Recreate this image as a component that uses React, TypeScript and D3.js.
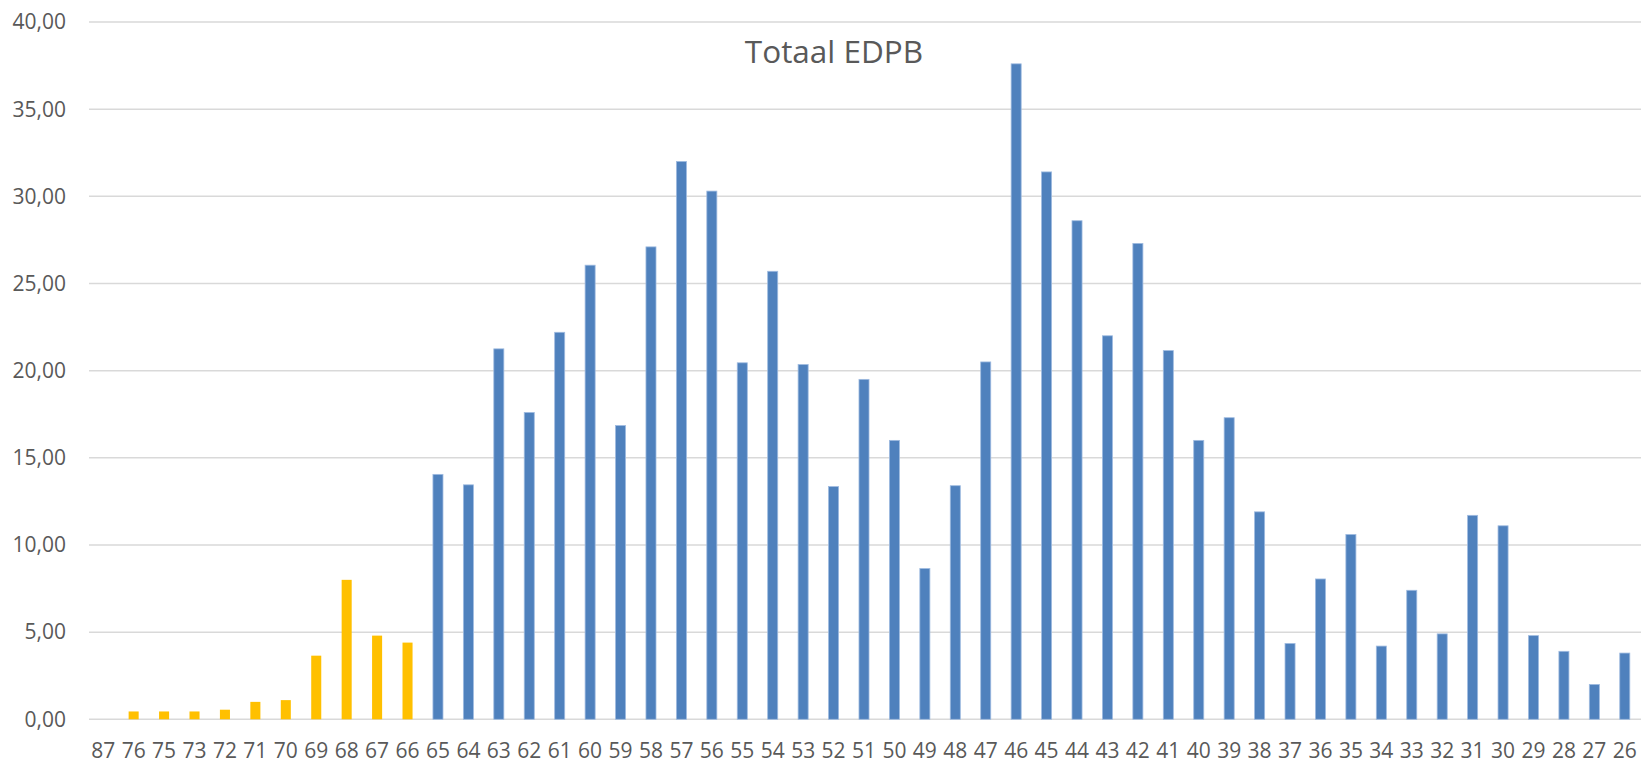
import React from "react";
import * as d3 from "d3";

const categories = ["87","76","75","73","72","71","70","69","68","67","66","65","64","63","62","61","60","59","58","57","56","55","54","53","52","51","50","49","48","47","46","45","44","43","42","41","40","39","38","37","36","35","34","33","32","31","30","29","28","27","26"];
const values = [0,0.45,0.45,0.45,0.55,1.0,1.1,3.65,8.0,4.8,4.4,14.05,13.45,21.25,17.6,22.2,26.05,16.85,27.1,32.0,30.3,20.45,25.7,20.35,13.35,19.5,16.0,8.65,13.4,20.5,37.6,31.4,28.6,22.0,27.3,21.15,16.0,17.3,11.9,4.35,8.05,10.6,4.2,7.4,4.9,11.7,11.1,4.8,3.9,2.0,3.8];
const yellowCategories = ["87","76","75","73","72","71","70","69","68","67","66"];
const yTicks = [0,5,10,15,20,25,30,35,40];
const title = "Totaal EDPB";

const W = 1641, H = 762;
const left = 88, right = 1640, top = 22, bottom = 719.3;
const FONT = "'Open Sans', sans-serif";

export default function App() {
  const x = d3.scaleBand<string>().domain(categories).range([left, right]).paddingInner(0.67).paddingOuter(0.335);
  const y = d3.scaleLinear().domain([0, 40]).range([bottom, top]);
  const fmt = (v: number) => d3.format(".2f")(v).replace(".", ",");
  return (
    <div style={{ position: "fixed", left: 0, top: 0 }}>
      <svg width={W} height={H} style={{ display: "block", background: "#fff" }}>
        {yTicks.map((t) => (
          <g key={t}>
            <line x1={left + 1} x2={right + 1} y1={y(t)} y2={y(t)} stroke="#d9d9d9" strokeWidth={1.5} />
            <text x={66} y={y(t)} dy="0.35em" textAnchor="end" fontFamily={FONT} fontSize={21} fill="#595959">{fmt(t)}</text>
          </g>
        ))}
        {categories.map((c, i) => {
          const v = values[i];
          if (v <= 0) return null;
          const yellow = yellowCategories.includes(c);
          return (
            <rect key={c} x={x(c)} y={y(v)} width={x.bandwidth()} height={y(0) - y(v)}
              fill={yellow ? "#FFC000" : "#4F81BD"} stroke={yellow ? "none" : "#9FBBE0"} strokeWidth={0.8} />
          );
        })}
        {categories.map((c) => (
          <text key={c} x={(x(c) as number) + x.bandwidth() / 2} y={758} textAnchor="middle" fontFamily={FONT} fontSize={21} fill="#595959">{c}</text>
        ))}
        <text x={834} y={62.5} textAnchor="middle" fontFamily={FONT} fontSize={31.5} fill="#595959">{title}</text>
      </svg>
    </div>
  );
}
